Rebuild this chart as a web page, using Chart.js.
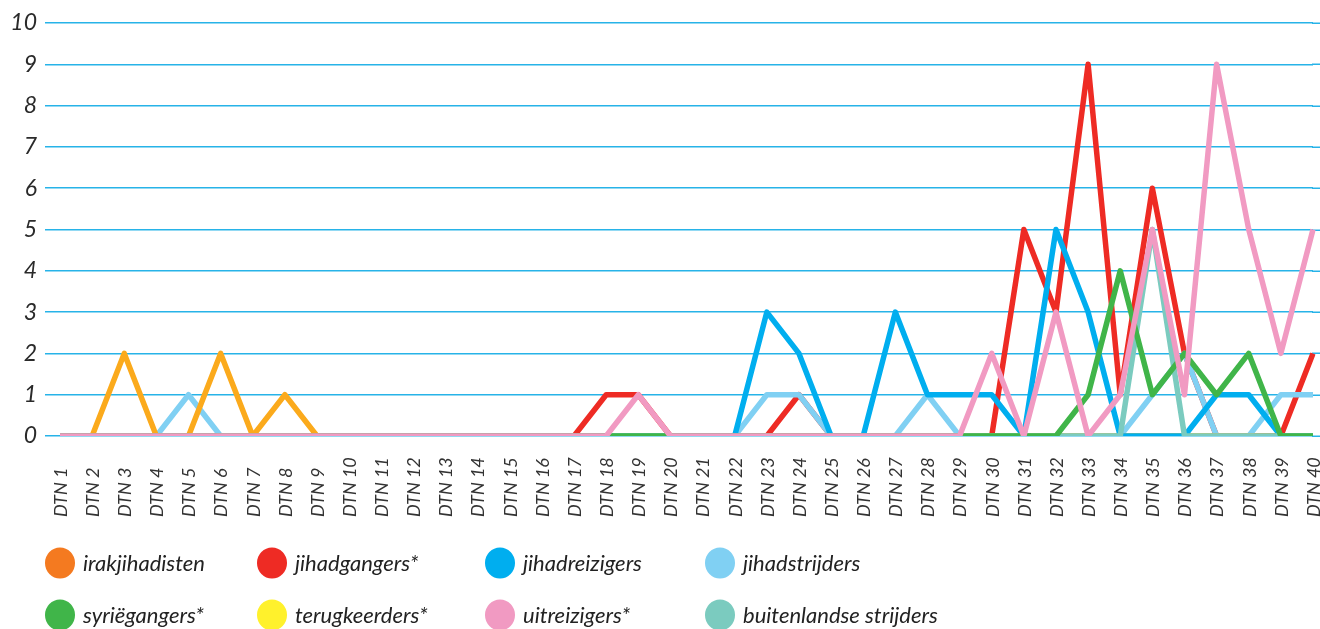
<!DOCTYPE html>
<html>
<head>
<meta charset="utf-8">
<script src="https://cdn.jsdelivr.net/npm/chart.js@4/dist/chart.umd.min.js"></script>
<style>
  html, body { margin: 0; padding: 0; background: #ffffff; }
  #wrap { position: relative; width: 1320px; height: 629px; }
</style>
</head>
<body>
<div id="wrap"><canvas id="c"></canvas></div>
<script>
const categories = ['DTN 1','DTN 2','DTN 3','DTN 4','DTN 5','DTN 6','DTN 7','DTN 8','DTN 9','DTN 10',
  'DTN 11','DTN 12','DTN 13','DTN 14','DTN 15','DTN 16','DTN 17','DTN 18','DTN 19','DTN 20',
  'DTN 21','DTN 22','DTN 23','DTN 24','DTN 25','DTN 26','DTN 27','DTN 28','DTN 29','DTN 30',
  'DTN 31','DTN 32','DTN 33','DTN 34','DTN 35','DTN 36','DTN 37','DTN 38','DTN 39','DTN 40'];

const yTicks = [0,1,2,3,4,5,6,7,8,9,10];

const irakjihadisten = [0,0,2,0,0,2,0,1,0,0, 0,0,0,0,0,0,0,0,0,0, 0,0,0,0,0,0,0,0,0,0, 0,0,0,0,0,0,0,0,0,0];
const jihadgangers   = [0,0,0,0,0,0,0,0,0,0, 0,0,0,0,0,0,0,1,1,0, 0,0,0,1,0,0,0,0,0,0, 5,3,9,1,6,2,0,0,0,2];
const jihadreizigers = [0,0,0,0,0,0,0,0,0,0, 0,0,0,0,0,0,0,0,0,0, 0,0,3,2,0,0,3,1,1,1, 0,5,3,0,0,0,1,1,0,0];
const jihadstrijders = [0,0,0,0,1,0,0,0,0,0, 0,0,0,0,0,0,0,0,0,0, 0,0,1,1,0,0,0,1,0,0, 0,0,0,0,1,2,0,0,1,1];
const syriegangers   = [0,0,0,0,0,0,0,0,0,0, 0,0,0,0,0,0,0,0,0,0, 0,0,0,0,0,0,0,0,0,0, 0,0,1,4,1,2,1,2,0,0];
const terugkeerders  = [0,0,0,0,0,0,0,0,0,0, 0,0,0,0,0,0,0,0,0,0, 0,0,0,0,0,0,0,0,0,0, 0,0,0,0,0,0,0,0,0,0];
const uitreizigers   = [0,0,0,0,0,0,0,0,0,0, 0,0,0,0,0,0,0,0,1,0, 0,0,0,0,0,0,0,0,0,2, 0,3,0,1,5,1,9,5,2,5];
const buitenlandse   = [0,0,0,0,0,0,0,0,0,0, 0,0,0,0,0,0,0,0,0,0, 0,0,0,0,0,0,0,0,0,0, 0,0,0,0,5,0,0,0,0,0];

const seriesNames = ['irakjihadisten','jihadgangers*','jihadreizigers','jihadstrijders',
                     'syriëgangers*','terugkeerders*','uitreizigers*','buitenlandse strijders'];
const seriesData = [irakjihadisten, jihadgangers, jihadreizigers, jihadstrijders,
                    syriegangers, terugkeerders, uitreizigers, buitenlandse];
const lineColors   = ['#FBAA1C','#EE2B24','#00AEEF','#80D0F3','#40B549','#FFF12C','#F19AC2','#7BCBBF'];
const legendColors = ['#F47A20','#EE2B24','#00AEEF','#80D0F3','#40B549','#FFF12C','#F19AC2','#7BCBBF'];
// drawing order: lower = on top
const drawOrder    = [4, 6, 3, 5, 1, 7, 0, 2];

const FONT = 'Lato, "Open Sans", sans-serif';
const GRID_COLOR = '#27B3E8';

const gridExtendPlugin = {
  id: 'gridExtend',
  beforeDatasetsDraw(chart) {
    const ctx = chart.ctx, ys = chart.scales.y, area = chart.chartArea;
    ctx.save();
    ctx.strokeStyle = GRID_COLOR;
    ctx.lineWidth = 1.5;
    ys.ticks.forEach(t => {
      const y = Math.round(ys.getPixelForValue(t.value)) + 0.25;
      ctx.beginPath();
      ctx.moveTo(area.right - 1, y);
      ctx.lineTo(chart.width, y);
      ctx.stroke();
    });
    ctx.restore();
  }
};

const xLabelPlugin = {
  id: 'xLabels',
  afterDraw(chart) {
    const ctx = chart.ctx, xs = chart.scales.x;
    ctx.save();
    ctx.font = 'italic 18px ' + FONT;
    ctx.fillStyle = '#333333';
    ctx.textAlign = 'left';
    ctx.textBaseline = 'middle';
    chart.data.labels.forEach((lab, i) => {
      const x = xs.getPixelForValue(i);
      ctx.save();
      ctx.translate(x + 1, 517);
      ctx.rotate(-Math.PI / 2);
      ctx.fillText(lab, 0, 0);
      ctx.restore();
    });
    ctx.restore();
  }
};

const legendPlugin = {
  id: 'gridLegend',
  afterDraw(chart) {
    const ctx = chart.ctx;
    const colX = [60, 272, 500, 720];
    const rowY = [563, 615];
    ctx.save();
    ctx.font = 'italic 22px ' + FONT;
    ctx.textAlign = 'left';
    ctx.textBaseline = 'middle';
    seriesNames.forEach((name, i) => {
      const cx = colX[i % 4], cy = rowY[Math.floor(i / 4)];
      ctx.beginPath();
      ctx.ellipse(cx, cy, 15, 15.5, 0, 0, Math.PI * 2);
      ctx.fillStyle = legendColors[i];
      ctx.fill();
      ctx.fillStyle = '#222222';
      ctx.fillText(name, cx + 23, cy + 1);
    });
    ctx.restore();
  }
};

new Chart(document.getElementById('c'), {
  type: 'line',
  data: {
    labels: categories,
    datasets: seriesNames.map((name, i) => ({
      label: name,
      data: seriesData[i],
      borderColor: lineColors[i],
      backgroundColor: legendColors[i],
      borderWidth: 5.5,
      pointRadius: 0,
      pointHoverRadius: 0,
      tension: 0,
      fill: false,
      order: drawOrder[i],
      borderJoinStyle: 'round',
      borderCapStyle: 'butt'
    }))
  },
  options: {
    responsive: true,
    maintainAspectRatio: false,
    animation: false,
    events: [],
    layout: { padding: { left: 0, right: 7, top: 23, bottom: 193 } },
    plugins: { legend: { display: false }, tooltip: { enabled: false } },
    scales: {
      x: {
        display: false,
        offset: false,
        ticks: { autoSkip: false }
      },
      y: {
        min: 0,
        max: 10,
        afterBuildTicks(scale) { scale.ticks = yTicks.map(v => ({ value: v })); },
        afterFit(scale) { scale.width = 60; },
        border: { display: false },
        grid: {
          color: GRID_COLOR,
          lineWidth: 1.5,
          drawTicks: true,
          tickLength: 15,
          tickColor: GRID_COLOR
        },
        ticks: {
          padding: 8,
          color: '#2a2a2a',
          font: { family: FONT, style: 'italic', size: 23 }
        }
      }
    }
  },
  plugins: [gridExtendPlugin, xLabelPlugin, legendPlugin]
});
</script>
</body>
</html>
